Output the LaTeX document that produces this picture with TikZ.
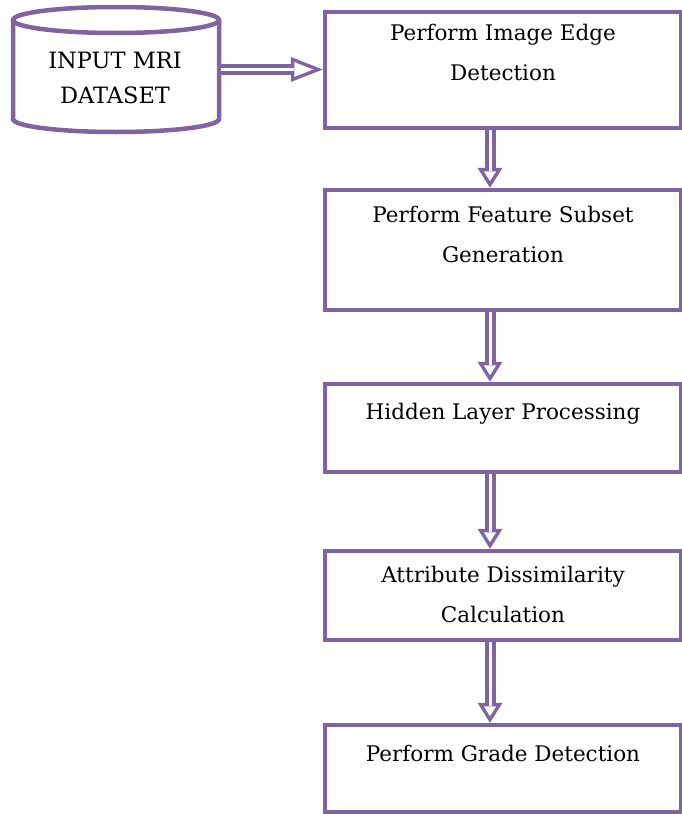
\documentclass[tikz,border=0pt]{standalone}
\usepackage{fontspec}
\setmainfont{DejaVu Serif}
\usepackage{tikz}
\usetikzlibrary{arrows.meta, positioning}
\definecolor{accent}{RGB}{128,100,162}
\tikzset{
	box/.style={draw=accent, line width=4.5pt, minimum width=356pt, inner sep=0pt},
	txt/.style={inner sep=0pt, align=center, anchor=north, font=\fontsize{21.5}{40}\selectfont},
	cyl/.style={draw=accent, line width=4.5pt},
	shaft/.style={accent, line width=11pt},
	core/.style={white, line width=3pt},
}

\begin{document}
\begin{tikzpicture}[x=1pt, y=-1pt, line join=miter]
	\useasboundingbox (0,0) rectangle (682,814);
	% input cylinder
	\node[inner sep=0pt, outer sep=0pt, minimum width=206pt, minimum height=125pt] (dataset) at (116,69.5) {};
	\draw[cyl] ([yshift=-13pt]dataset.north west) -- ([yshift=13pt]dataset.south west)
		arc[start angle=180, end angle=360, x radius=103pt, y radius=13pt]
		-- ([yshift=-13pt]dataset.north east);
	\draw[cyl] ([yshift=-13pt]dataset.north) ellipse[x radius=103pt, y radius=13pt];
	\node[txt, font=\fontsize{22.5}{35}\selectfont] (datasettxt) at (115,51.6) {INPUT MRI\\DATASET};
	% process boxes
	\node[box, minimum height=116pt] (edge) at (503,70) {};
	\node[box, minimum height=120pt] (subset) at (503,250) {};
	\node[box, minimum height=88pt] (hidden) at (503,428) {};
	\node[box, minimum height=89pt] (dissim) at (503,595.5) {};
	\node[box, minimum height=87pt] (grade) at (503,768.5) {};
	\node[txt, below=14.5pt of edge.north] (edgetxt) {Perform Image Edge\\Detection};
	\node[txt, below=18.5pt of subset.north] (subsettxt) {Perform Feature Subset\\Generation};
	\node[txt, below=21.5pt of hidden.north] (hiddentxt) {Hidden Layer Processing};
	\node[txt, below=17.5pt of dissim.north] (dissimtxt) {Attribute Dissimilarity\\Calculation};
	\node[txt, below=22.5pt of grade.north] (gradetxt) {Perform Grade Detection};
	% hollow arrows
	\draw[shaft, -{Triangle[length=32pt, width=25pt, line width=0pt]}] (dataset.east) -- (dataset.east -| edge.west);
	\draw[core, shorten <=2pt, shorten >=9.6pt, -{Triangle[length=18.9pt, width=14.8pt, line width=0pt]}] (dataset.east) -- (dataset.east -| edge.west);
	\foreach \a/\b in {edge/subset, subset/hidden, hidden/dissim, dissim/grade} {
		\draw[shaft, -{Triangle[length=20pt, width=25pt, line width=0pt]}] ([xshift=-13pt]\a.south) -- ([xshift=-13pt]\b.north);
		\draw[core, shorten >=6.6pt, -{Triangle[length=9.9pt, width=12.4pt, line width=0pt]}] ([xshift=-13pt]\a.south) -- ([xshift=-13pt]\b.north);
	}
\end{tikzpicture}
\end{document}
